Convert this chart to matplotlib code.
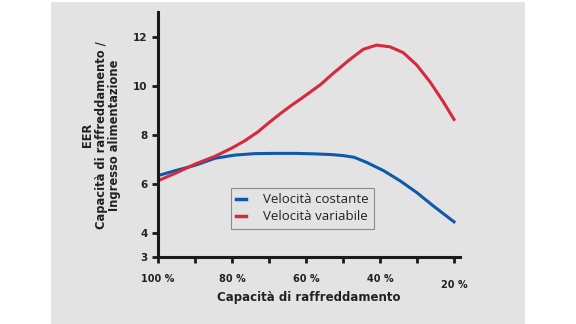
import matplotlib
matplotlib.use("Agg")
import matplotlib.pyplot as plt
from matplotlib.patches import Rectangle
from matplotlib.transforms import ScaledTranslation

cap_constant = [100, 95.4, 90, 84.6, 79.2, 73.8, 68.4, 63, 57.6, 53, 50, 47, 43.6, 39, 34.6, 30, 25.6, 20]
eer_constant = [6.33, 6.53, 6.75, 7.04, 7.17, 7.23, 7.24, 7.24, 7.22, 7.19, 7.15, 7.08, 6.87, 6.53, 6.12, 5.63, 5.09, 4.44]
cap_variable = [100, 95.4, 90, 84.6, 80, 76.5, 73, 70, 67, 64, 61.6, 56.2, 52.6, 48.1, 44.5, 40.9, 37.3, 33.7, 30.1, 26.5, 22.9, 20]
eer_variable = [6.12, 6.42, 6.80, 7.12, 7.46, 7.76, 8.12, 8.50, 8.86, 9.20, 9.45, 10.04, 10.52, 11.09, 11.50, 11.67, 11.60, 11.36, 10.86, 10.17, 9.35, 8.63]
x_major = [100, 80, 60, 40, 20]
x_major_labels = ["100 %", "80 %", "60 %", "40 %", "20 %"]
x_minor = [90, 70, 50, 30]
y_ticks = [3, 4, 6, 8, 10, 12]

W, H = 576, 324
fig = plt.figure(figsize=(W/100, H/100), dpi=100)
fig.patch.set_facecolor("white")
bg = "#e2e3e2"
rect = Rectangle((51/W, 0), (525-51)/W, 322/H, transform=fig.transFigure,
                 facecolor=bg, edgecolor="none", zorder=-10)
fig.add_artist(rect)

ax = fig.add_axes([158/W, 1-257/H, (460-158)/W, (257-12)/H])
ax.set_zorder(1)
ax.set_facecolor("none")
ax.plot(cap_constant, eer_constant, color="#0f5aa8", lw=2.2, label="Velocità costante",
        solid_joinstyle="round")
ax.plot(cap_variable, eer_variable, color="#d8283c", lw=2.2, label="Velocità variabile",
        solid_joinstyle="round")

ax.set_xlim(100, 100 - (460-158)/3.7)
ax.set_ylim(3, 3 + (257-12)/24.44)
for s in ["top", "right"]:
    ax.spines[s].set_visible(False)
for s in ["left", "bottom"]:
    ax.spines[s].set_linewidth(2.2)
    ax.spines[s].set_color("#1a1a1a")

ax.set_yticks(y_ticks)
ax.set_yticklabels([str(v) for v in y_ticks], fontsize=7.5, fontweight="bold", color="#222222")
ax.set_xticks(x_major)
ax.set_xticks(x_minor, minor=True)
ax.set_xticklabels(x_major_labels, fontsize=7, fontweight="bold", color="#222222")
ax.tick_params(axis="both", which="both", direction="out", length=4, width=2, color="#1a1a1a")
ax.tick_params(axis="x", which="major", pad=8)
lbls = ax.get_xticklabels()
lbls[-1].set_transform(lbls[-1].get_transform() + ScaledTranslation(0, -4.3/72, fig.dpi_scale_trans))

ax.set_xlabel("Capacità di raffreddamento", fontsize=8.5, fontweight="bold", color="#222222", labelpad=1)
fig.text(101/W, 1-135/H, "EER\nCapacità di raffreddamento /\nIngresso alimentazione",
         rotation=90, ha="center", va="center", fontsize=8.3, fontweight="bold",
         color="#222222", linespacing=1.05, multialignment="center")

leg = ax.legend(loc="upper left", bbox_to_anchor=((231-158)/(460-158), (257-188)/(257-12)),
                prop={"family": "Open Sans", "size": 9.5}, frameon=True, fancybox=False,
                handlelength=0.75, handletextpad=1.3, borderpad=0.4, labelspacing=0.3,
                borderaxespad=0)
leg.get_frame().set_facecolor(bg)
leg.get_frame().set_edgecolor("#777777")
leg.get_frame().set_linewidth(0.8)
for t in leg.get_texts():
    t.set_color("#222222")
for h in leg.legend_handles:
    h.set_linewidth(2.5)

fig.savefig("out.png", dpi=100)
